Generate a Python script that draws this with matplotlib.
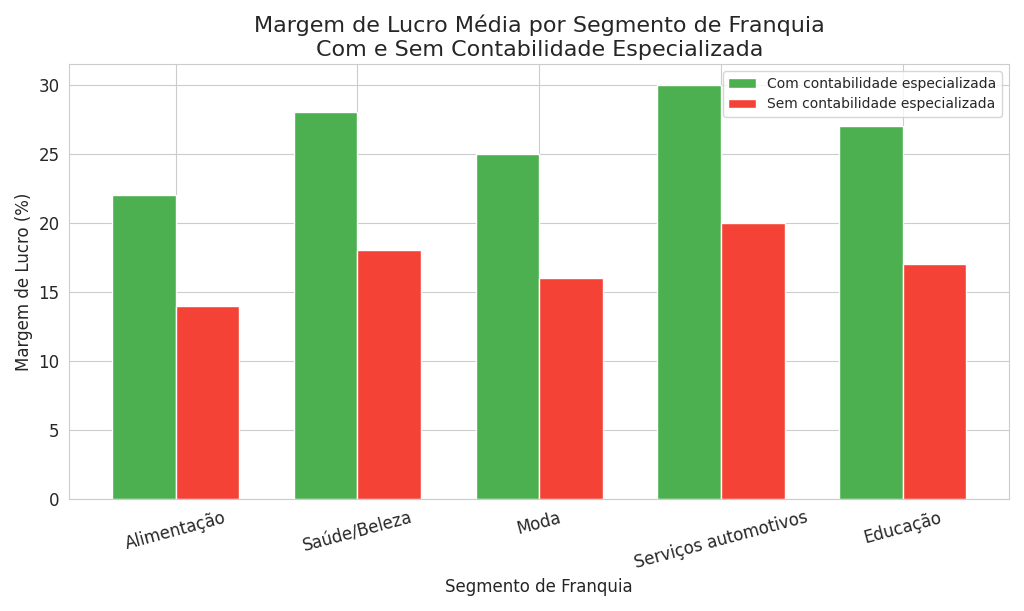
import numpy as np
import matplotlib
matplotlib.use("Agg")
import matplotlib.pyplot as plt
import seaborn as sns

sns.set_style("whitegrid")

segmentos = ["Alimentação", "Saúde/Beleza", "Moda", "Serviços automotivos", "Educação"]
com_contab = [22, 28, 25, 30, 27]
sem_contab = [14, 18, 16, 20, 17]

x = np.arange(len(segmentos))
w = 0.35

fig, ax = plt.subplots(figsize=(10.24, 6.11), dpi=100)
ax.bar(x - w / 2, com_contab, w, color="#4CAF50", edgecolor="white",
       label="Com contabilidade especializada")
ax.bar(x + w / 2, sem_contab, w, color="#F44336", edgecolor="white",
       label="Sem contabilidade especializada")

ax.set_title("Margem de Lucro Média por Segmento de Franquia\nCom e Sem Contabilidade Especializada",
             fontsize=16)
ax.set_xlabel("Segmento de Franquia", fontsize=12)
ax.set_ylabel("Margem de Lucro (%)", fontsize=12)
ax.set_xticks(x)
ax.set_xticklabels(segmentos, rotation=15, fontsize=12)
ax.tick_params(axis="y", labelsize=12)
ax.legend(loc="upper right", fontsize=10)

plt.tight_layout()
fig.savefig("out.png", dpi=100)
